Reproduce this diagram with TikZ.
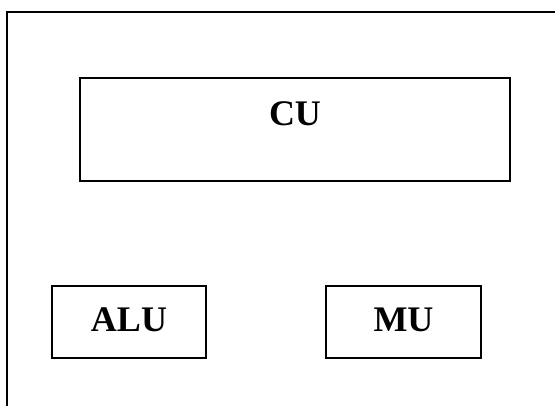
\documentclass[tikz,border=0pt]{standalone}
\usepackage{fontspec}
\setmainfont{Liberation Serif}
\begin{document}
\begin{tikzpicture}[x=1pt,y=-1pt,line width=2pt]
\tikzset{unitname/.style={font=\fontsize{36}{42}\selectfont\bfseries, inner sep=0pt}}
\useasboundingbox (0,0) rectangle (555,405);
\clip (0,0) rectangle (555,405);

\draw (6.5,420) -- (6.5,12) -- (570,12);

\draw (80,78) rectangle (510,181);
\node[unitname] (cu) at (295,113.5) {CU};

\draw (52,286) rectangle (206,358);
\node[unitname] (alu) at (129,320) {ALU};

\draw (326,286) rectangle (481,358);
\node[unitname] (mu) at (403.5,320) {MU};
\end{tikzpicture}
\end{document}
